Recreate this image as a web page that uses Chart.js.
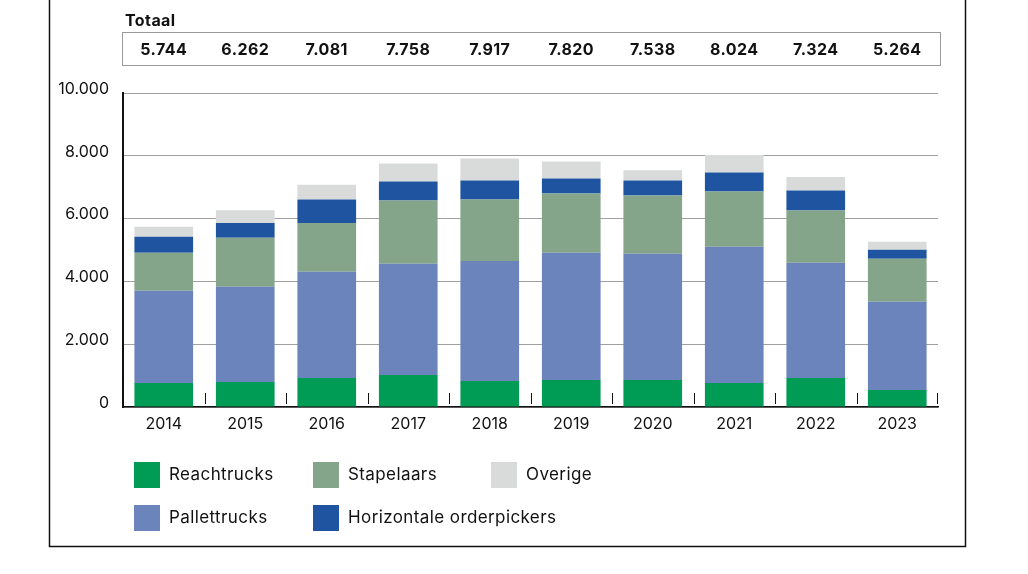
<!DOCTYPE html>
<html>
<head>
<meta charset="utf-8">
<style>
  html, body { margin: 0; padding: 0; background: #fff; }
  #wrap { position: relative; width: 1028px; height: 574px; }
  canvas { display: block; }
</style>
<script src="https://cdn.jsdelivr.net/npm/chart.js@4.4.1/dist/chart.umd.min.js"></script>
</head>
<body>
<div id="wrap"><canvas id="c" width="1028" height="574"></canvas></div>
<script>
const years = ['2014','2015','2016','2017','2018','2019','2020','2021','2022','2023'];
const reachtrucks  = [766, 798, 926, 1021, 830, 862, 862, 766, 926, 543];
const pallettrucks = [2935, 3031, 3382, 3542, 3819, 4052, 4020, 4339, 3669, 2807];
const stapelaars   = [1213, 1564, 1554, 2010, 1956, 1883, 1851, 1755, 1659, 1372];
const orderpickers = [510, 469, 743, 606, 606, 478, 478, 607, 638, 288];
const overige      = [320, 400, 476, 579, 706, 545, 327, 557, 432, 254];
const totals       = [5744, 6262, 7081, 7758, 7917, 7820, 7538, 8024, 7324, 5264];
const yTicks       = [0, 2000, 4000, 6000, 8000, 10000];

const FONT = 'Inter, "Open Sans", sans-serif';
const COLORS = {
  reach: '#009b55',
  pallet: '#6b84bb',
  stap: '#84a58a',
  horiz: '#1f55a0',
  over: '#d9dbdb'
};

function fmt(n) {
  return String(n).replace(/\B(?=(\d{3})+(?!\d))/g, '.');
}

const extras = {
  id: 'extras',
  afterDraw(chart) {
    const ctx = chart.ctx;
    const x = chart.scales.x;
    const area = chart.chartArea;
    ctx.save();
    // outer frame
    ctx.strokeStyle = '#111';
    ctx.lineWidth = 1.5;
    ctx.beginPath();
    ctx.moveTo(49.5, 0); ctx.lineTo(49.5, 546.5); ctx.lineTo(965.5, 546.5); ctx.lineTo(965.5, 0);
    ctx.stroke();

    // Totaal box
    ctx.strokeStyle = '#9a9a9a';
    ctx.lineWidth = 1;
    ctx.strokeRect(122.5, 32.5, 818, 33);
    ctx.fillStyle = '#111';
    ctx.font = 'bold 16px ' + FONT;
    ctx.textBaseline = 'middle';
    ctx.textAlign = 'left';
    if ('letterSpacing' in ctx) ctx.letterSpacing = '0.4px';
    ctx.fillText('Totaal', 125, 21);
    ctx.textAlign = 'center';
    totals.forEach((t, i) => {
      ctx.fillText(fmt(t), x.getPixelForValue(i), 50);
    });
    if ('letterSpacing' in ctx) ctx.letterSpacing = '0px';

    // small category separator marks above the axis
    ctx.strokeStyle = '#111';
    ctx.lineWidth = 1;
    ctx.beginPath();
    for (let i = 0; i < years.length; i++) {
      let px;
      if (i < years.length - 1) px = (x.getPixelForValue(i) + x.getPixelForValue(i + 1)) / 2;
      else px = area.right - 1;
      px = Math.round(px) + 0.5;
      ctx.moveTo(px, 393); ctx.lineTo(px, 404);
    }
    ctx.stroke();

    // legend
    const ds = chart.data.datasets;
    const items = [
      { d: ds[0], x: 134, y: 462 },
      { d: ds[2], x: 313, y: 462 },
      { d: ds[4], x: 491, y: 462 },
      { d: ds[1], x: 134, y: 505 },
      { d: ds[3], x: 313, y: 505 }
    ];
    ctx.font = '17px ' + FONT;
    if ('letterSpacing' in ctx) ctx.letterSpacing = '0.4px';
    ctx.textAlign = 'left';
    ctx.textBaseline = 'middle';
    items.forEach(it => {
      ctx.fillStyle = it.d.backgroundColor;
      ctx.fillRect(it.x, it.y, 26, 26);
      ctx.fillStyle = '#111';
      ctx.fillText(it.d.label, it.x + 35, it.y + 13);
    });
    ctx.restore();
  }
};

new Chart(document.getElementById('c'), {
  type: 'bar',
  data: {
    labels: years,
    datasets: [
      { label: 'Reachtrucks', data: reachtrucks, backgroundColor: COLORS.reach },
      { label: 'Pallettrucks', data: pallettrucks, backgroundColor: COLORS.pallet },
      { label: 'Stapelaars', data: stapelaars, backgroundColor: COLORS.stap },
      { label: 'Horizontale orderpickers', data: orderpickers, backgroundColor: COLORS.horiz },
      { label: 'Overige', data: overige, backgroundColor: COLORS.over }
    ]
  },
  options: {
    responsive: false,
    animation: false,
    devicePixelRatio: 1,
    categoryPercentage: 1,
    barPercentage: 0.72,
    layout: { padding: { left: 50, right: 90, top: 93, bottom: 137 } },
    plugins: { legend: { display: false }, tooltip: { enabled: false } },
    scales: {
      x: {
        stacked: true,
        grid: { display: false, drawTicks: false },
        border: { display: true, color: '#111', width: 1.5 },
        ticks: { color: '#111', font: { family: FONT, size: 16 }, padding: 8 },
        afterFit(s) { s.height = 30; }
      },
      y: {
        stacked: true,
        min: 0, max: 10000,
        afterBuildTicks(s) { s.ticks = yTicks.map(v => ({ value: v })); },
        grid: { color: '#a0a0a0', lineWidth: 1, drawTicks: false },
        border: { display: true, color: '#111', width: 2 },
        ticks: {
          color: '#111', font: { family: FONT, size: 16 }, padding: 14, labelOffset: -4,
          callback: v => fmt(v)
        },
        afterFit(s) { s.width = 73; }
      }
    }
  },
  plugins: [extras]
});
</script>
</body>
</html>
